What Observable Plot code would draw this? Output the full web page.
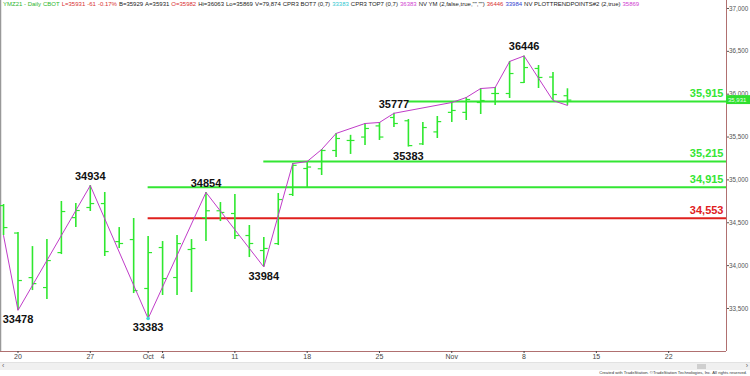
<!DOCTYPE html>
<html><head><meta charset="utf-8">
<script src="https://cdn.jsdelivr.net/npm/d3@7"></script>
<script src="https://cdn.jsdelivr.net/npm/@observablehq/plot@0.6"></script>
<style>
body{margin:0;background:#fff;font-family:"Liberation Sans",Arial,sans-serif;}
#wrap{position:relative;width:750px;height:376px;overflow:hidden;background:#fff;}
#chart{position:absolute;left:0;top:0;}
#hdr{position:absolute;left:3px;top:1px;font-size:6px;white-space:nowrap;color:#222;}
#hdr span{margin-right:2px;}
#scroll{position:absolute;left:0;top:362px;width:750px;height:8px;background:#f0f0f0;border-top:1px solid #e2e2e2;box-sizing:border-box;}
#thumb{position:absolute;left:697px;top:1px;width:9px;height:5px;background:#cfcfcf;}
.arr{position:absolute;top:-1px;font-size:7px;color:#666;}
#cap{position:absolute;right:3px;top:370px;font-size:4.2px;color:#333;white-space:nowrap;}
</style></head>
<body>
<div id="wrap">
<div id="chart"></div>
<div id="hdr"></div>
<div id="scroll"><span class="arr" style="left:2px">‹</span><div id="thumb"></div><span class="arr" style="right:2px">›</span></div>
<div id="cap">Created with TradeStation. ©TradeStation Technologies, Inc. All rights reserved.</div>
</div>
<script>
// ---- data ----
const dates = ["2021-09-17","2021-09-20","2021-09-21","2021-09-22","2021-09-23","2021-09-24",
"2021-09-27","2021-09-28","2021-09-29","2021-09-30","2021-10-01",
"2021-10-04","2021-10-05","2021-10-06","2021-10-07","2021-10-08",
"2021-10-11","2021-10-12","2021-10-13","2021-10-14","2021-10-15",
"2021-10-18","2021-10-19","2021-10-20","2021-10-21","2021-10-22",
"2021-10-25","2021-10-26","2021-10-27","2021-10-28","2021-10-29",
"2021-11-01","2021-11-02","2021-11-03","2021-11-04","2021-11-05",
"2021-11-08","2021-11-09","2021-11-10","2021-11-11"];
const opens  = [34700,34380,33860,33744,34152,34560,34678,34724,34280,34304,33733,34211,33861,34188,34560,34640,34608,34351,34176,34257,34830,35133,35130,35343,35460,35500,35630,35728,35690,35420,35560,35788,35788,35903,36008,36008,36136,36300,36200,35982];
const highs  = [34713,34386,34222,34304,34748,34724,34934,34853,34444,34550,34339,34281,34351,34304,34854,34736,34829,34468,34328,34841,35190,35215,35355,35542,35520,35658,35670,35777,35705,35670,35740,35903,35961,36066,36078,36382,36446,36335,36253,36063];
const lows   = [34351,33478,33709,33604,34129,34444,34631,34106,34199,33674,33383,33651,33651,33686,34281,34514,34304,34094,33984,34234,34806,34900,35051,35262,35297,35401,35460,35611,35383,35401,35483,35670,35693,35763,35868,35950,36125,36066,35926,35869];
const closes = [34444,33826,33790,34059,34631,34643,34724,34164,34258,33709,34152,33849,34257,34199,34640,34620,34351,34258,34200,34771,35170,35150,35343,35483,35460,35600,35500,35658,35400,35611,35680,35810,35938,35926,36008,36241,36311,36195,35996,35931];

// zig-zag trend points
const trendDates  = ["2021-09-17","2021-09-20","2021-09-27","2021-10-01","2021-10-07","2021-10-13","2021-10-15","2021-10-18","2021-10-19","2021-10-20","2021-10-22","2021-10-25","2021-10-26","2021-11-01","2021-11-02","2021-11-03","2021-11-04","2021-11-05","2021-11-08","2021-11-10","2021-11-11"];
const trendValues = [34351,33478,34934,33383,34854,33984,35190,35215,35355,35542,35658,35670,35777,35903,35961,36066,36078,36382,36446,35926,35869];

// labelled pivots
const pivotDates  = ["2021-09-20","2021-09-27","2021-10-01","2021-10-07","2021-10-13","2021-10-26","2021-10-27","2021-11-08"];
const pivotValues = [33478,34934,33383,34854,33984,35777,35383,36446];
const pivotSide   = ["below","above","below","above","below","above","below","above"];

// horizontal levels
const levelValues = [35915,35215,34915,34553];
const levelStarts = ["2021-10-27","2021-10-13","2021-10-01","2021-10-01"];
const levelColors = ["#33e633","#33e633","#33e633","#e0201e"];

const lastPrice = 35931;

// header legend
const hdrParts = [
  ["YMZ21 - Daily","#2bb52b"],["CBOT","#2bb52b"],["L=35931","#d83030"],["-61","#d83030"],["-0.17%","#d83030"],
  ["B=35929","#222"],["A=35931","#222"],["O=35982","#d83030"],["Hi=36063","#222"],["Lo=35869","#222"],["V=79,874","#222"],
  ["CPR3 BOT7 (0,7)","#222"],["33383","#30c8d0"],["CPR3 TOP7 (0,7)","#222"],["36383","#d040d0"],
  ["NV YM (2,false,true,\"\",\"\")","#222"],["36446","#d83030"],["33984","#3040d0"],
  ["NV PLOTTRENDPOINTS#2 (2,true)","#222"],["35869","#d040d0"]
];

// axes ticks
const xTickDates  = ["2021-09-20","2021-09-27","2021-10-01","2021-10-04","2021-10-11","2021-10-18","2021-10-25","2021-11-01","2021-11-08","2021-11-15","2021-11-22"];
const xTickLabels = ["20","27","Oct","4","11","18","25","Nov","8","15","22"];
const yTicks = [33500,34000,34500,35000,35500,36000,36500,37000];

// ---- trading-day calendar (weekdays) ----
const idx = new Map();
{
  let d = new Date(dates[0] + "T12:00:00Z"), k = 0;
  const end = new Date("2021-12-03T12:00:00Z");
  while (d <= end) {
    const wd = d.getUTCDay();
    if (wd !== 0 && wd !== 6) { idx.set(d.toISOString().slice(0,10), k++); }
    d = new Date(d.getTime() + 86400000);
  }
}
const X = s => idx.get(s);

const bars = dates.map((d,i)=>({x:X(d), o:opens[i], h:highs[i], l:lows[i], c:closes[i]}));
const trend = trendDates.map((d,i)=>({x:X(d), y:trendValues[i]}));
const pivots = pivotDates.map((d,i)=>({x:X(d), y:pivotValues[i], side:pivotSide[i]}));
const levels = levelValues.map((v,i)=>({v, x1:X(levelStarts[i]), color:levelColors[i]}));
const xTickPos = xTickDates.map(X);

const xMin = -0.21, xMax = 50.0;
const tick = 0.27;
const green = "#2fe82f";
const axisCol = "#b07070";
const fmt = d3.format(",");

const plot = Plot.plot({
  width: 750, height: 362,
  marginTop: 0, marginRight: 24, marginBottom: 11, marginLeft: 0,
  style: {fontFamily: "'Liberation Sans', Arial, sans-serif", background: "#fff", overflow: "visible"},
  x: {type: "linear", domain: [xMin, xMax]},
  y: {domain: [32998, 37093]},
  marks: [
    Plot.ruleX([xMin], {stroke: "#999", strokeWidth: 1.5}),
    Plot.ruleX([xMax], {stroke: axisCol, strokeWidth: 1}),
    Plot.ruleY([32998], {stroke: axisCol, strokeWidth: 1}),
    Plot.axisY({anchor: "right", ticks: yTicks, tickFormat: fmt, tickSize: 2, tickPadding: 0.5, fontSize: 6.3, color: "#555", label: null}),
    Plot.axisX({ticks: xTickPos, tickFormat: (d) => xTickLabels[xTickPos.indexOf(d)], tickSize: 2, tickPadding: 1, fontSize: 7, color: "#444", label: null}),
    // levels
    Plot.ruleY(levels, {y: "v", x1: "x1", x2: xMax, stroke: "color", strokeWidth: 2}),
    Plot.text(levels, {x: xMax, y: "v", text: d => fmt(d.v), dx: -3, dy: -8, textAnchor: "end", fill: "color", fontWeight: "bold", fontSize: 11}),
    // OHLC bars
    Plot.ruleX(bars, {x: "x", y1: "l", y2: "h", stroke: green, strokeWidth: 1.6}),
    Plot.link(bars, {x1: d => d.x - tick, x2: "x", y1: "o", y2: "o", stroke: green, strokeWidth: 1.2}),
    Plot.link(bars, {x1: "x", x2: d => d.x + tick, y1: "c", y2: "c", stroke: green, strokeWidth: 1.2}),
    // trend
    Plot.line(trend, {x: "x", y: "y", stroke: "#c03cc8", strokeWidth: 1}),
    Plot.dot([trend[3]], {x: "x", y: "y", r: 1.8, fill: "#3cd6d6"}),
    // pivot labels
    Plot.text(pivots.filter(d => d.side === "above"), {x: "x", y: "y", text: d => String(d.y), dy: -9, fill: "#111", fontWeight: "bold", fontSize: 11}),
    Plot.text(pivots.filter(d => d.side === "below"), {x: "x", y: "y", text: d => String(d.y), dy: 9, fill: "#111", fontWeight: "bold", fontSize: 11}),
    // current price tag
    Plot.rect([lastPrice], {x1: xMax, x2: xMax + 1.7, y1: d => d - 52, y2: d => d + 52, fill: "#2fe02f"}),
    Plot.text([lastPrice], {x: xMax, y: d => d, text: d => fmt(d), dx: 1.5, textAnchor: "start", fill: "#eaffea", fontSize: 6})
  ]
});
document.getElementById("chart").appendChild(plot);

const hdr = document.getElementById("hdr");
for (const [t, c] of hdrParts) {
  const s = document.createElement("span");
  s.textContent = t; s.style.color = c;
  hdr.appendChild(s);
}
</script>
</body></html>
